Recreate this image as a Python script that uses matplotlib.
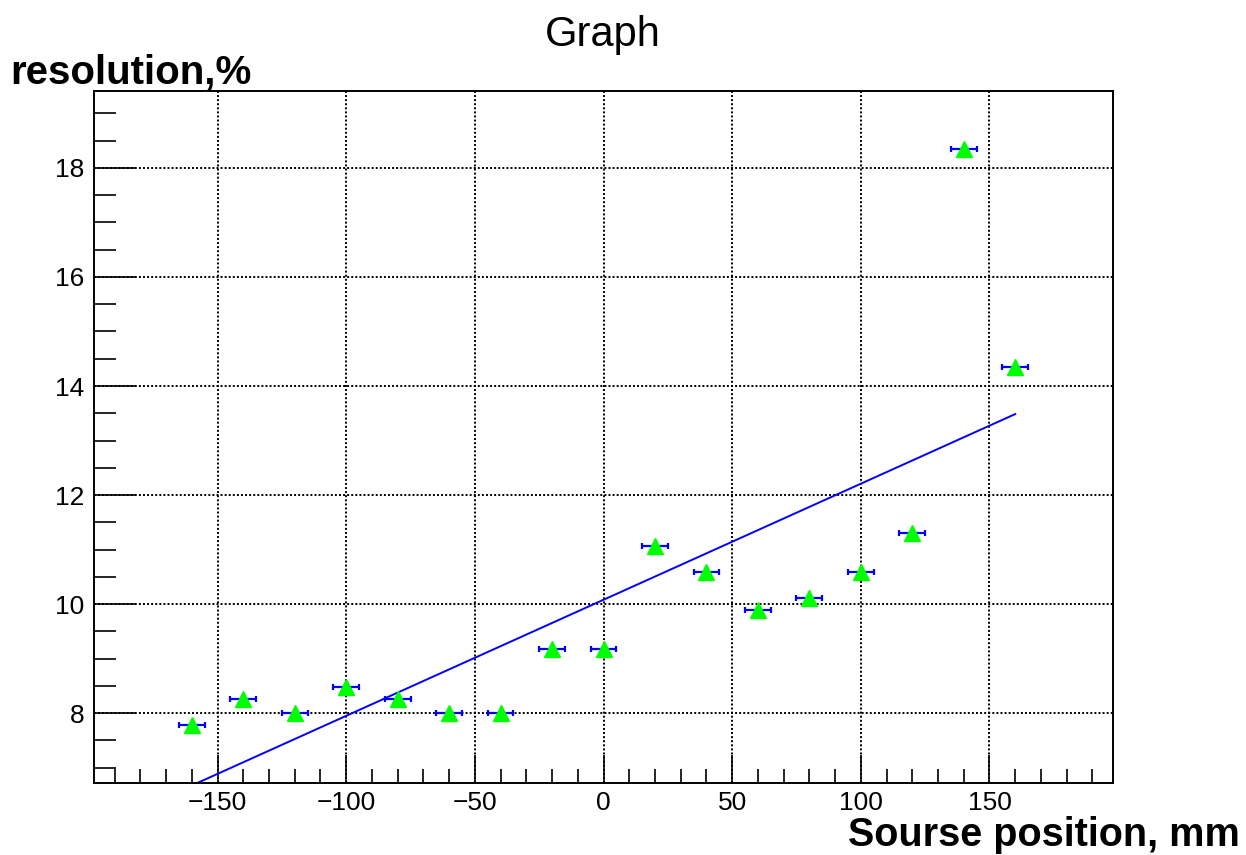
import numpy as np
import matplotlib.pyplot as plt
from matplotlib.ticker import MultipleLocator

plt.rcParams['font.family'] = ['Liberation Sans', 'DejaVu Sans']

# source position (mm) and resolution (%)
position = np.array([-160, -140, -120, -100, -80, -60, -40, -20, 0,
                     20, 40, 60, 80, 100, 120, 140, 160])
resolution = np.array([7.78, 8.26, 8.00, 8.48, 8.26, 8.00, 8.00, 9.17, 9.17,
                       11.06, 10.59, 9.89, 10.11, 10.59, 11.30, 18.35, 14.35])
pos_err = np.full(len(position), 5.0)

# linear fit
slope, intercept = np.polyfit(position, resolution, 1)
fit_x = np.array([position.min(), position.max()])
fit_y = intercept + slope * fit_x

W, H = 1246, 855
fig = plt.figure(figsize=(W / 100, H / 100), dpi=100)
ax = fig.add_axes([94 / W, 1 - 783 / H, (1113 - 94) / W, (783 - 91) / H])

ax.plot(fit_x, fit_y, color='#0000ff', lw=1.4, zorder=2)
ax.errorbar(position, resolution, xerr=pos_err, fmt='none', ecolor='#0000ff',
            elinewidth=1.6, capsize=2.5, capthick=1.6, zorder=3)
ax.plot(position, resolution, '^', color='#00ff00', ms=11, mec='#00ff00', zorder=4)

ax.set_xlim(-198, 198)
ax.set_ylim(6.72, 19.41)

ax.xaxis.set_major_locator(MultipleLocator(50))
ax.xaxis.set_minor_locator(MultipleLocator(10))
ax.yaxis.set_major_locator(MultipleLocator(2))
ax.yaxis.set_minor_locator(MultipleLocator(0.5))

ax.tick_params(axis='both', which='both', direction='in', top=False, right=False,
               labelsize=19, color='black', width=1.2)
ax.tick_params(axis='x', which='major', length=20, pad=6)
ax.tick_params(axis='x', which='minor', length=10)
ax.tick_params(axis='y', which='major', length=30, pad=7)
ax.tick_params(axis='y', which='minor', length=16)

ax.grid(True, which='major', color='black', linestyle=(0, (1, 1.1)), lw=1.4)
for s in ax.spines.values():
    s.set_linewidth(1.4)

fig.text(603 / W, 1 - 46 / H, 'Graph', ha='center', va='baseline', fontsize=30)
fig.text(10 / W, 1 - 84 / H, 'resolution,%', ha='left', va='baseline',
         fontsize=29, fontweight='bold')
fig.text(1240 / W, 1 - 846 / H, 'Sourse position, mm', ha='right', va='baseline',
         fontsize=28.5, fontweight='bold')

fig.savefig('out.png', dpi=100)
